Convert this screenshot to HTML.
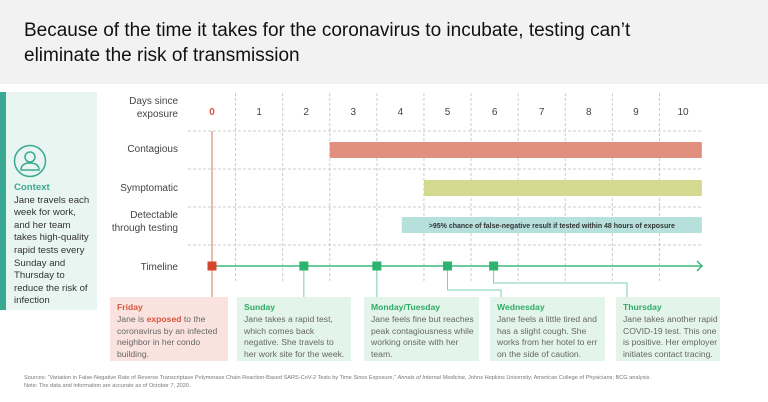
<!DOCTYPE html>
<html><head><meta charset="utf-8"><style>
body{margin:0;width:768px;height:402px;overflow:hidden;background:#fff;font-family:"Liberation Sans",sans-serif;position:relative}
.hdr{position:absolute;left:0;top:0;width:768px;height:84px;background:#f2f2f2}
.hdr h1{position:absolute;left:24px;top:18px;width:668px;margin:0;font-weight:normal;font-size:19px;line-height:25px;color:#111}
.ctx{position:absolute;left:0;top:92px;width:97px;height:218px;background:#e8f5f1}
.ctx .bar{position:absolute;left:0;top:0;width:6px;height:218px;background:#3aa991}
.ctx .t{position:absolute;left:14px;top:90px;width:80px;font-size:9.6px;line-height:12.6px;color:#333}
.ctx b{color:#3aa991}
.card{position:absolute;top:297px;height:64px;background:#e3f5ea;font-size:8.6px;line-height:11.8px;color:#666;padding:5px 3px 0 7px;box-sizing:border-box;overflow:hidden}
.card b{color:#2eaa66;display:block}
.src{position:absolute;left:24px;font-size:5.6px;color:#777}
</style></head><body>
<div class="hdr"><h1>Because of the time it takes for the coronavirus to incubate, testing can’t eliminate the risk of transmission</h1></div>
<div class="ctx"><div class="bar"></div>
<svg style="position:absolute;left:13px;top:52px" width="34" height="34"><circle cx="17" cy="17" r="15.5" fill="none" stroke="#3aa991" stroke-width="1.5"/><circle cx="17" cy="13" r="5" fill="none" stroke="#3aa991" stroke-width="1.5"/><path d="M8 26 Q8 19 17 19 Q26 19 26 26 Z" fill="none" stroke="#3aa991" stroke-width="1.5"/></svg>
<div class="t"><b>Context</b><br>Jane travels each week for work, and her team takes high-quality rapid tests every Sunday and Thursday to reduce the risk of infection</div></div>
<svg id="ch" width="768" height="402" style="position:absolute;left:0;top:0"></svg>
<div class="card" style="left:110px;width:118px;background:#fae3df"><b style="color:#d9553f">Friday</b>Jane is <span style="color:#d9553f;font-weight:bold">exposed</span> to the coronavirus by an infected neighbor in her condo building.</div>
<div class="card" style="left:237px;width:114px"><b>Sunday</b>Jane takes a rapid test, which comes back negative. She travels to her work site for the week.</div>
<div class="card" style="left:364px;width:115px"><b>Monday/Tuesday</b>Jane feels fine but reaches peak contagiousness while working onsite with her team.</div>
<div class="card" style="left:490px;width:115px"><b>Wednesday</b>Jane feels a little tired and has a slight cough. She works from her hotel to err on the side of caution.</div>
<div class="card" style="left:616px;width:104px;padding-right:0"><b>Thursday</b>Jane takes another rapid COVID-19 test. This one is positive. Her employer initiates contact tracing.</div>
<div class="src" style="top:375px">Sources: “Variation in False-Negative Rate of Reverse Transcriptase Polymerase Chain Reaction-Based SARS-CoV-2 Tests by Time Since Exposure,” <i>Annals of Internal Medicine</i>, Johns Hopkins University; American College of Physicians; BCG analysis.</div>
<div class="src" style="top:383px">Note: The data and information are accurate as of October 7, 2020.</div>
<script>
const days=[0,1,2,3,4,5,6,7,8,9,10];
const rows=["Contagious","Symptomatic","Detectable|through testing","Timeline"];
const contagious=[2.5,10.4];
const symptomatic=[4.5,10.4];
const detectable=[4.03,10.4];
const events=[0,1.95,3.5,5.0,5.98];
const x=d=>212+47.1*d;
const s=document.getElementById('ch');const NS='http://www.w3.org/2000/svg';
function el(t,a,p){const e=document.createElementNS(NS,t);for(const k in a)e.setAttribute(k,a[k]);(p||s).appendChild(e);return e;}
[131,169,207,245].forEach(y=>{const l=el('line',{x1:188,x2:703,y1:y,y2:y,stroke:'#ccc','stroke-dasharray':'3,2'});

});
days.slice(0,10).forEach(d=>{const l=el('line',{x1:x(d+0.5),x2:x(d+0.5),y1:93,y2:283,stroke:'#ccc','stroke-dasharray':'3,2'});

});
days.forEach(d=>{const t=el('text',{x:x(d),y:115,'text-anchor':'middle','font-size':10,fill:d==0?'#d9553f':'#444','font-weight':d==0?'bold':'normal'});t.textContent=d;

});
const lbl=[["Days since","exposure",110],["Contagious",null,152],["Symptomatic",null,191],["Detectable","through testing",224],["Timeline",null,270]];
lbl.forEach(r=>{if(r[1]){[r[0],r[1]].forEach((t,i)=>{const e=el('text',{x:178,y:r[2]-6+i*13,'text-anchor':'end','font-size':10,fill:'#444'});e.textContent=t;

});}else{const e=el('text',{x:178,y:r[2],'text-anchor':'end','font-size':10,fill:'#444'});e.textContent=r[0];

}});
let b=el('rect',{x:x(contagious[0]),y:142,width:x(contagious[1])-x(contagious[0]),height:16,fill:'#e19080'});


b=el('rect',{x:x(symptomatic[0]),y:180,width:x(symptomatic[1])-x(symptomatic[0]),height:16,fill:'#d3d98f'});


b=el('rect',{x:x(detectable[0]),y:217,width:x(detectable[1])-x(detectable[0]),height:16,fill:'#b5e0dc'});


const dt=el('text',{x:(x(detectable[0])+x(detectable[1]))/2,y:228,'text-anchor':'middle','font-size':7,'font-weight':'bold',fill:'#333'});dt.textContent='>95% chance of false-negative result if tested within 48 hours of exposure';


const rl=el('line',{x1:x(0),x2:x(0),y1:131,y2:297,stroke:'#e08a78','stroke-width':1.2});


const tl=el('line',{x1:x(0),x2:701,y1:266,y2:266,stroke:'#3cb87a','stroke-width':1.5});


const ar=el('path',{d:'M697 261 L702 266 L697 271',fill:'none',stroke:'#3cb87a','stroke-width':1.5});


const conn=[null,[297,null],[297,null],[290,501],[283,627]];
events.forEach((d,i)=>{if(i>0){const c=conn[i];let p=c[1]?`M${x(d)} 266 V${c[0]} H${c[1]} V297`:`M${x(d)} 266 V297`;
const e=el('path',{d:p,fill:'none',stroke:'#7fd0a8','stroke-width':1});

}
const m=el('rect',{x:x(d)-4.5,y:261.5,width:9,height:9,fill:i==0?'#d2462e':'#2db36e'});

});
</script>
</body></html>
